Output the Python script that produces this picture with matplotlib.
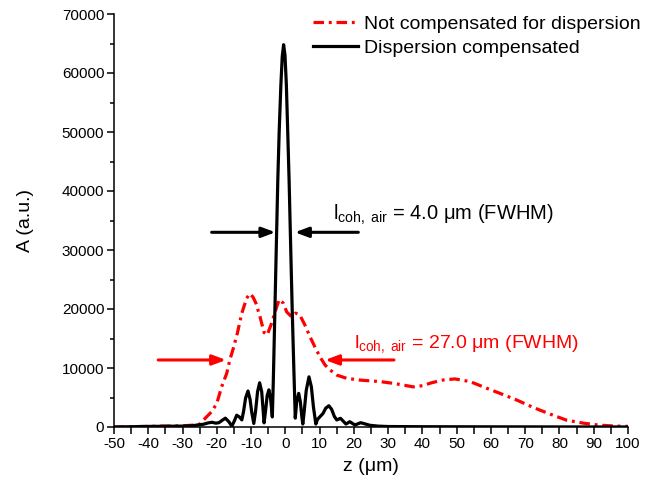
import matplotlib
matplotlib.use("Agg")
import matplotlib.pyplot as plt
from matplotlib.ticker import MultipleLocator

plt.rcParams['font.family'] = ['Liberation Sans', 'DejaVu Sans']
plt.rcParams['mathtext.fontset'] = 'custom'
plt.rcParams['mathtext.rm'] = 'Liberation Sans'
plt.rcParams['mathtext.it'] = 'Liberation Sans'
plt.rcParams['axes.unicode_minus'] = False

# Dispersion compensated (black)
z_comp = [-50, -40, -30, -27, -25, -23.9, -22.5, -21.4, -20.3, -19.4, -18.5, -17.5,
          -16.5, -15.6, -14.9, -14.2, -13.4, -12.7, -12.2, -11.6, -10.9, -10.3, -9.8,
          -9.2, -8.7, -8.1, -7.5, -6.9, -6.5, -6.2, -5.8, -5.3, -4.8, -4.3, -4.0,
          -3.8, -3.5, -3.0, -2.5, -2.2, -1.8, -1.3, -0.9, -0.5, -0.1, 0.3, 0.7, 1.1,
          1.5, 2.0, 2.5, 2.9, 3.3, 3.9, 4.4, 4.8, 5.1, 5.5, 6.1, 6.9, 7.6, 8.2, 8.9,
          9.4, 10.2, 11.0, 11.8, 12.7, 13.5, 14.3, 15.0, 16.1, 17.7, 18.8, 20.3, 22.0,
          24.7, 27, 30, 40, 60, 100]
A_comp = [0, 100, 150, 220, 400, 460, 700, 800, 650, 730, 1100, 1500,
          900, 150, 1000, 2000, 1700, 1200, 2600, 4900, 6100, 4700, 2500,
          600, 2600, 6000, 7500, 6000, 3000, 700, 2600, 5300, 6300, 4800, 3000,
          1700, 8000, 21000, 34000, 41800, 50000, 58000, 62800, 64800, 63000, 58000, 50000, 41800,
          32000, 20000, 9500, 1500, 4200, 5700, 4200, 1800, 500, 2600, 6200, 8500, 6800, 3400, 500,
          1300, 1800, 2300, 3200, 3600, 3000, 1800, 1190, 1470, 500, 900, 340, 730,
          290, 150, 80, 50, 30, 0]

# Not compensated for dispersion (red)
z_nc = [-50, -40, -30, -26, -24.9, -23.4, -21.5, -20.0, -18.6, -17.1, -16.2, -15.2,
        -14.0, -12.7, -11.3, -10.4, -9.4, -8.6, -7.4, -6.2, -5.3, -4.0, -3.0, -1.8,
        -0.6, 0.4, 1.8, 3.0, 4.2, 5.7, 7.2, 8.6, 10.1, 11.6, 13.0, 15.0, 17.9, 21.8,
        27.6, 31.5, 34.5, 37.3, 40, 42.7, 46.1, 49.5, 53.9, 58.8, 62.6, 67.5, 72.4,
        77.2, 82.1, 87.0, 91.8, 96.7, 100]
A_nc = [0, 100, 200, 350, 500, 1470, 2600, 4000, 6800, 9100, 11350, 13300,
        15900, 19300, 21800, 22600, 22000, 21000, 18700, 16000, 15600, 17600, 19500, 21600,
        21000, 19500, 18700, 19300, 19000, 17300, 15300, 13600, 11900, 10500, 9700, 8800, 8250, 7950,
        7700, 7400, 7100, 6800, 7000, 7500, 7970, 8150, 7700, 6560, 5710, 4580, 3300,
        2200, 1150, 650, 300, 150, 100]

W, H = 649, 493
fig = plt.figure(figsize=(W / 100, H / 100), dpi=100)
ax = fig.add_axes([114 / W, 1 - 427 / H, (628 - 114) / W, (427 - 14) / H])

ax.plot(z_nc, A_nc, color='#ff0000', lw=2.3, linestyle=(0, (3.3, 1.5, 0.9, 1.5)),
        label='Not compensated for dispersion')
ax.plot(z_comp, A_comp, color='black', lw=2.3, label='Dispersion compensated')

ax.set_xlim(-50, 100)
ax.set_ylim(0, 70000)
ax.xaxis.set_major_locator(MultipleLocator(10))
ax.xaxis.set_minor_locator(MultipleLocator(5))
ax.yaxis.set_major_locator(MultipleLocator(10000))
ax.yaxis.set_minor_locator(MultipleLocator(5000))
for s in ['top', 'right']:
    ax.spines[s].set_visible(False)
for s in ['left', 'bottom']:
    ax.spines[s].set_linewidth(1.1)
ax.tick_params(axis='both', which='major', direction='out', length=5, width=1.1,
               labelsize=11, pad=2)
ax.tick_params(axis='x', which='minor', direction='out', length=5, width=1.1)
ax.tick_params(axis='y', which='minor', direction='out', length=3, width=1.1)
ax.set_xlabel('z (μm)', fontsize=14, labelpad=5)
ax.set_ylabel('A (a.u.)', fontsize=14, labelpad=20)

# FWHM arrows
arrow_k = dict(arrowstyle='-|>,head_length=0.8,head_width=0.3', color='black', lw=2.2,
               shrinkA=0, shrinkB=0)
ax.annotate('', xy=(-2.9, 33000), xytext=(-21.5, 33000), arrowprops=arrow_k)
ax.annotate('', xy=(2.8, 33000), xytext=(21.3, 33000), arrowprops=arrow_k)
arrow_r = dict(arrowstyle='-|>,head_length=0.8,head_width=0.3', color='#ff0000', lw=2.2,
               shrinkA=0, shrinkB=0)
ax.annotate('', xy=(-17.3, 11360), xytext=(-37.1, 11360), arrowprops=arrow_r)
ax.annotate('', xy=(11.6, 11360), xytext=(31.7, 11360), arrowprops=arrow_r)

ax.text(13.9, 35200, r'$\mathrm{l}_{\mathrm{coh,\ air}}$ = 4.0 μm (FWHM)', fontsize=14.5,
        color='black', va='baseline', ha='left')
ax.text(20.0, 13400, r'$\mathrm{l}_{\mathrm{coh,\ air}}$ = 27.0 μm (FWHM)', fontsize=14,
        color='#ff0000', va='baseline', ha='left')

ax.legend(loc='upper left', bbox_to_anchor=(313 / W, 1 - 15 / H),
          bbox_transform=fig.transFigure, frameon=False, fontsize=14,
          borderpad=0, borderaxespad=0, handlelength=2.3, handletextpad=0.3,
          labelspacing=0.35)

fig.savefig('out.png', dpi=100)
